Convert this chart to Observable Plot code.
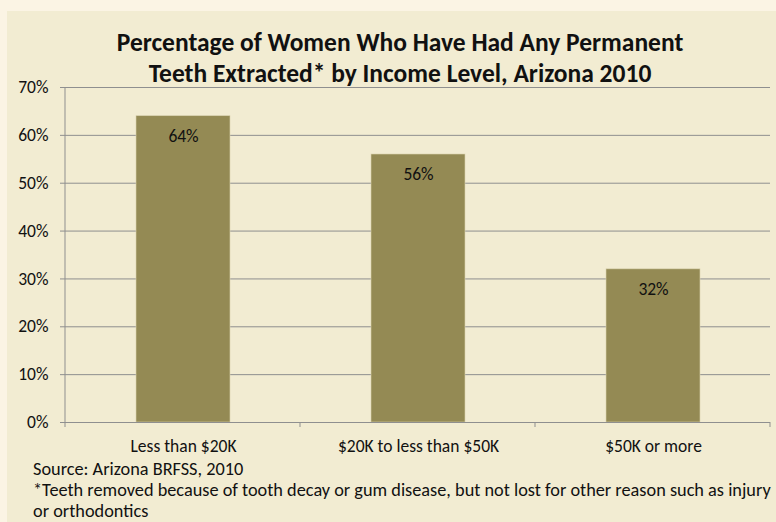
<!DOCTYPE html>
<html>
<head>
<meta charset="utf-8">
<script src="https://cdn.jsdelivr.net/npm/d3@7"></script>
<script src="https://cdn.jsdelivr.net/npm/@observablehq/plot@0.6"></script>
<style>
  html, body { margin: 0; padding: 0; }
  body { width: 776px; height: 522px; overflow: hidden; font-family: Carlito, Calibri, "Open Sans", sans-serif; }
  #wrap { position: relative; width: 776px; height: 522px; background: #FBF4E4; overflow: hidden; }
  #panel { position: absolute; left: 7px; top: 11px; right: 0; bottom: 0; background: #F2ECD2; }
  #title { position: absolute; left: 0; width: 800px; top: 27px; text-align: center; font-weight: bold; font-size: 25.5px; line-height: 31px; color: #111; }
  #chart { position: absolute; left: 0; top: 0; }
  .cap { position: absolute; left: 33px; font-size: 18.3px; line-height: 21px; color: #111; white-space: nowrap; }
</style>
</head>
<body>
<div id="wrap">
  <div id="panel"></div>
  <div id="chart"></div>
  <div id="title">Percentage of Women Who Have Had Any Permanent<br>Teeth Extracted* by Income Level, Arizona 2010</div>
  <div class="cap" style="top:459px">Source: Arizona BRFSS, 2010</div>
  <div class="cap" style="top:480px; line-height:20.5px">*Teeth removed because of tooth decay or gum disease, but not lost for other reason such as injury<br>or orthodontics</div>
</div>
<script>
const categories = ["Less than $20K", "$20K to less than $50K", "$50K or more"];
const values = [64, 56, 32];
const yTicks = [0, 10, 20, 30, 40, 50, 60, 70];

const data = categories.map((c, i) => ({category: c, value: values[i]}));
const font = 'Carlito, Calibri, "Open Sans", sans-serif';

const chart = Plot.plot({
  width: 776,
  height: 522,
  marginLeft: 65,
  marginRight: 6,
  marginTop: 87,
  marginBottom: 100,
  style: { background: "transparent", fontFamily: font, fontSize: "17.5px", color: "#111" },
  x: { domain: categories, paddingInner: 0.6, paddingOuter: 0.3, label: null },
  y: { domain: [0, 70], label: null },
  marks: [
    Plot.gridY(yTicks, { stroke: "#8f8f8f", strokeOpacity: 1, strokeWidth: 1 }),
    Plot.barY(data, { x: "category", y: "value", fill: "#948A54", stroke: "#D9D2AE", strokeWidth: 0.6 }),
    Plot.text(data, { x: "category", y: "value", text: d => d.value + "%", dy: 20, fill: "#111", fontSize: 17.5 }),
    Plot.axisY(yTicks, { tickFormat: d => d + "%", tickSize: 5, tickPadding: 12, stroke: "#8f8f8f", fontSize: 17.5, label: null }),
    Plot.axisX({ tickSize: 0, tickPadding: 17, fontSize: 17.5, label: null }),
    Plot.ruleY([0], { stroke: "#8f8f8f" })
  ]
});
document.getElementById("chart").appendChild(chart);

// y axis line and category-boundary ticks via scales
const xs = chart.scale("x"), ys = chart.scale("y");
const svg = d3.select(chart);
const x0 = xs.range[0], x1 = xs.range[1];
const yb = ys.apply(0), yt = ys.apply(70);
svg.append("line").attr("x1", x0).attr("x2", x0).attr("y1", yt).attr("y2", yb + 5).attr("stroke", "#8f8f8f");
const step = (x1 - x0) / categories.length;
for (let i = 1; i <= categories.length; i++) {
  const xx = x0 + step * i;
  svg.append("line").attr("x1", xx).attr("x2", xx).attr("y1", yb).attr("y2", yb + 5).attr("stroke", "#8f8f8f");
}
</script>
</body>
</html>
